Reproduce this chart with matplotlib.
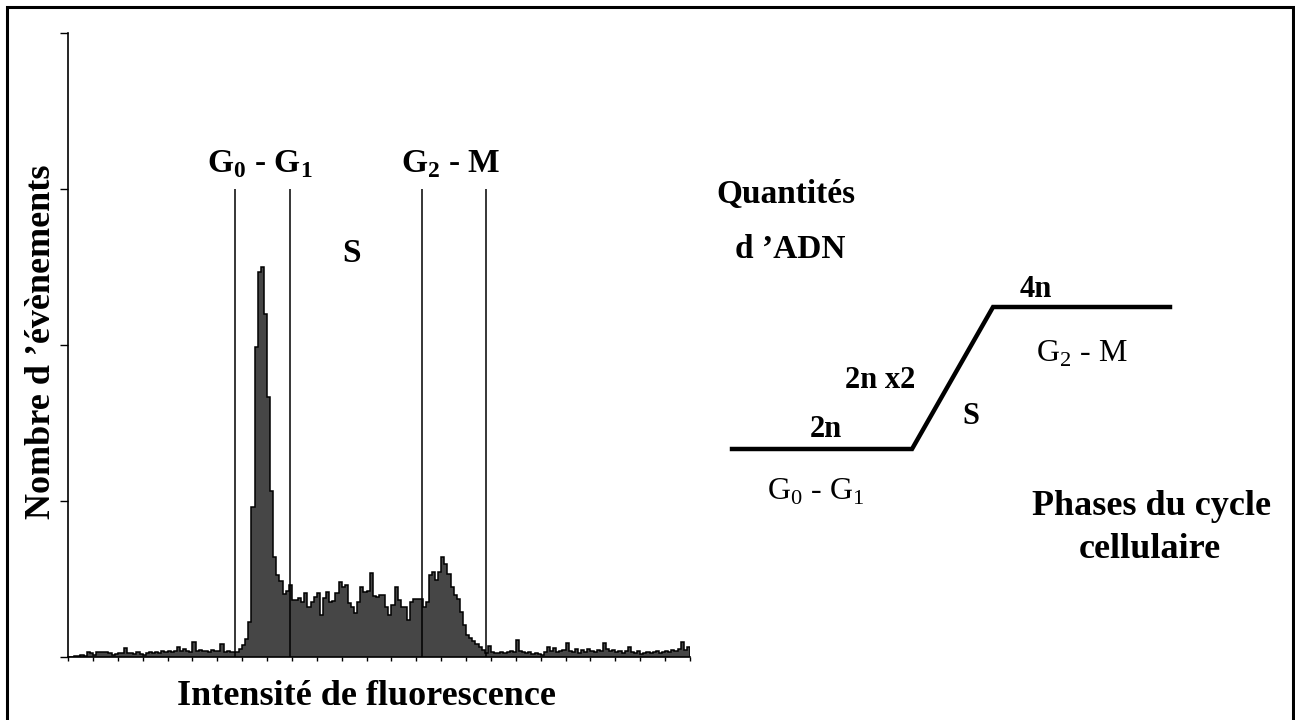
import numpy as np
import matplotlib
matplotlib.use("Agg")
import matplotlib.pyplot as plt
from matplotlib.patches import Rectangle

# histogram of DNA content (channels 0-1000, bins of 5 channels)
channel_edges = np.arange(0, 1001, 5)
counts = [
    0, 0, 1, 1, 2, 1, 5, 4, 2, 5,
    5, 5, 5, 4, 2, 3, 4, 4, 9, 4,
    4, 3, 5, 3, 2, 4, 5, 4, 5, 4,
    6, 5, 6, 5, 6, 10, 6, 8, 6, 5,
    15, 6, 7, 6, 6, 5, 7, 6, 6, 13,
    5, 6, 5, 5, 5, 8, 12, 18, 35, 150,
    310, 385, 390, 343, 260, 166, 100, 82, 76, 63,
    66, 72, 57, 57, 59, 55, 64, 50, 55, 60,
    64, 42, 59, 65, 55, 56, 64, 75, 70, 72,
    54, 50, 44, 55, 70, 65, 66, 84, 61, 60,
    62, 62, 50, 42, 52, 70, 57, 50, 50, 37,
    55, 58, 58, 58, 50, 55, 82, 85, 77, 85,
    100, 93, 83, 70, 62, 58, 45, 32, 22, 19,
    16, 13, 10, 7, 4, 11, 5, 4, 4, 5,
    4, 5, 6, 5, 17, 6, 5, 4, 5, 3,
    4, 3, 2, 5, 10, 6, 9, 5, 6, 7,
    14, 6, 5, 8, 4, 7, 5, 8, 6, 5,
    7, 6, 14, 8, 6, 7, 5, 6, 4, 6,
    10, 5, 4, 6, 3, 4, 5, 4, 5, 6,
    4, 5, 6, 5, 7, 6, 8, 15, 7, 10,
]
gate_channels = [269, 357, 569, 672]
gate_top = 468

# schematic: DNA content along the cycle
cycle_pos = [0, 4.11, 5.96, 10]
dna_content = [2, 2, 4, 4]

W, H = 1295, 720
plt.rcParams['font.family'] = ['Liberation Serif', 'DejaVu Serif']
plt.rcParams['mathtext.fontset'] = 'custom'
plt.rcParams['mathtext.rm'] = 'Liberation Serif'
plt.rcParams['mathtext.bf'] = 'Liberation Serif:bold'

fig = plt.figure(figsize=(W / 100, H / 100), dpi=100)


def px(x, y):
    return x / W, 1 - y / H


# outer frame
fig.patches.append(Rectangle(px(7, 725), (1293 - 7) / W, (725 - 7) / H,
                             transform=fig.transFigure, fill=False,
                             edgecolor='black', lw=2.2))

# histogram panel
ax = fig.add_axes([68 / W, (H - 657) / H, 622 / W, 624 / H])
ax.stairs(counts, channel_edges, fill=True, color='#464646', lw=0)
ax.stairs(counts, channel_edges, color='black', lw=1.1)
ax.vlines(gate_channels, 0, gate_top, color='black', lw=1.1)
ax.set_xlim(0, 1000)
ax.set_ylim(0, 624)
ax.set_xticks(np.arange(0, 1001, 40))
ax.set_yticks(np.arange(0, 625, 156))
ax.tick_params(axis='x', length=3, width=1, labelbottom=False)
ax.tick_params(axis='y', length=6, width=1, labelleft=False)
for s in ['top', 'right']:
    ax.spines[s].set_visible(False)
for s in ['left', 'bottom']:
    ax.spines[s].set_linewidth(1.2)

big = dict(fontsize=24, fontweight='bold', ha='center', va='baseline')
reg = dict(fontsize=23, ha='center', va='baseline')

fig.text(*px(366, 705), 'Intensité de fluorescence', fontsize=26,
         fontweight='bold', ha='center', va='baseline')
fig.text(*px(42, 342), 'Nombre d ’évènements', rotation=90,
         fontsize=26, fontweight='bold', ha='center', va='center')
fig.text(*px(260, 172), r'G$_\mathbf{0}$ - G$_\mathbf{1}$', **big)
fig.text(*px(451, 172), r'G$_\mathbf{2}$ - M', **big)
fig.text(*px(351, 262), 'S', **big)

# right-hand schematic
ax2 = fig.add_axes([732 / W, (H - 449) / H, (1170 - 732) / W, (449 - 307) / H])
ax2.plot(cycle_pos, dna_content, color='black', lw=3.2, clip_on=False,
         solid_joinstyle='miter')
ax2.set_xlim(0, 10)
ax2.set_ylim(2, 4)
ax2.axis('off')

fig.text(*px(786, 203), 'Quantités', **big)
fig.text(*px(790, 258), 'd ’ADN', **big)
fig.text(*px(1036, 297), '4n', fontsize=22, fontweight='bold', ha='center', va='baseline')
fig.text(*px(826, 437), '2n', fontsize=22, fontweight='bold', ha='center', va='baseline')
fig.text(*px(880, 388), '2n x2', fontsize=22, fontweight='bold', ha='center', va='baseline')
fig.text(*px(971, 424), 'S', fontsize=22, fontweight='bold', ha='center', va='baseline')
fig.text(*px(1082, 362), r'G$_2$ - M', **reg)
fig.text(*px(816, 500), r'G$_0$ - G$_1$', **reg)
fig.text(*px(1151, 515), 'Phases du cycle', fontsize=26, fontweight='bold',
         ha='center', va='baseline')
fig.text(*px(1150, 558), 'cellulaire', fontsize=26, fontweight='bold',
         ha='center', va='baseline')

fig.savefig('out.png', dpi=100, facecolor='white')
